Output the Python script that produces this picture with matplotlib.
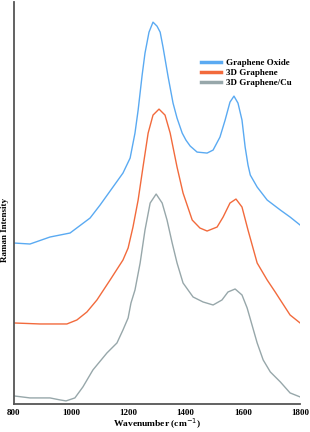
import numpy as np
import matplotlib
matplotlib.use("Agg")
import matplotlib.pyplot as plt

plt.rcParams["font.family"] = ["Liberation Serif", "DejaVu Serif"]

# Raman spectra (arbitrary intensity units, offset stacked)
go_wn = [800, 856, 926, 996, 1066, 1101, 1146, 1181, 1206, 1223, 1234, 1248, 1258, 1272,
         1286, 1300, 1311, 1321, 1339, 1356, 1370, 1388, 1401, 1416, 1440, 1475, 1496,
         1520, 1538, 1555, 1569, 1583, 1597, 1608, 1618, 1626, 1650, 1685, 1731, 1765, 1800]
go_int = [162, 161, 168, 172, 187, 200, 218, 232, 247, 272, 295, 330, 352, 373,
          383, 379, 373, 358, 328, 302, 287, 272, 265, 259, 253, 252, 255,
          268, 285, 303, 309, 302, 285, 258, 240, 230, 218, 205, 195, 188, 180]

g3d_wn = [800, 891, 985, 1020, 1055, 1090, 1136, 1181, 1199, 1216, 1234, 1251, 1269, 1286,
          1307, 1328, 1346, 1370, 1391, 1423, 1450, 1475, 1510, 1531, 1555, 1576, 1597,
          1618, 1650, 1685, 1713, 1731, 1765, 1800]
g3d_int = [82, 81, 81, 85, 93, 105, 125, 145, 157, 178, 205, 238, 272, 290,
           296, 290, 272, 238, 212, 185, 177, 174, 178, 188, 202, 206, 198,
           175, 142, 125, 113, 105, 90, 82]

gcu_wn = [800, 856, 926, 961, 982, 1013, 1041, 1076, 1125, 1160, 1181, 1199, 1209, 1223,
          1241, 1258, 1276, 1297, 1318, 1335, 1353, 1370, 1391, 1426, 1461, 1496, 1527,
          1548, 1573, 1597, 1615, 1632, 1650, 1671, 1696, 1731, 1765, 1800]
gcu_int = [9, 7, 7, 5, 4, 7, 18, 35, 52, 62, 75, 87, 102, 115,
           142, 175, 202, 211, 202, 185, 162, 142, 122, 108, 103, 100, 105,
           113, 116, 110, 97, 80, 62, 45, 33, 23, 12, 8]

xticks = [800, 1000, 1200, 1400, 1600, 1800]

fig = plt.figure(figsize=(3.10, 4.32), dpi=100)
ax = fig.add_axes([0.045, 0.065, 0.923, 0.93])

ax.plot(go_wn, go_int, color="#5aaaf2", lw=1.0, label="Graphene Oxide")
ax.plot(g3d_wn, g3d_int, color="#f26a3c", lw=1.0, label="3D Graphene")
ax.plot(gcu_wn, gcu_int, color="#97a7aa", lw=1.0, label="3D Graphene/Cu")

ax.set_xlim(800, 1800)
ax.set_ylim(1, 403)
ax.set_xticks(xticks)
ax.set_xticklabels([str(t) for t in xticks], fontsize=6.5, fontweight="bold")
ax.set_yticks([])
ax.tick_params(axis="x", length=0, pad=4)

for s in ["top", "right"]:
    ax.spines[s].set_visible(False)
for s in ["left", "bottom"]:
    ax.spines[s].set_color("#555555")
    ax.spines[s].set_linewidth(1.3)

fig.text(0.505, 1 - 424 / 432, "Wavenumber (cm$^{-1}$)", ha="center", va="center",
         fontsize=6.8, fontweight="bold")
fig.text(0.016, 1 - 230 / 432, "Raman Intensity", rotation=90, ha="center", va="center",
         fontsize=6.5, fontweight="bold")

leg = ax.legend(loc="upper left", bbox_to_anchor=(0.625, 0.88), frameon=False,
                prop={"size": 6.5, "weight": "bold"}, handlelength=2.2,
                handletextpad=0.6, labelspacing=0.2)
for line in leg.get_lines():
    line.set_linewidth(2.5)

fig.savefig("out.png", dpi=100)
